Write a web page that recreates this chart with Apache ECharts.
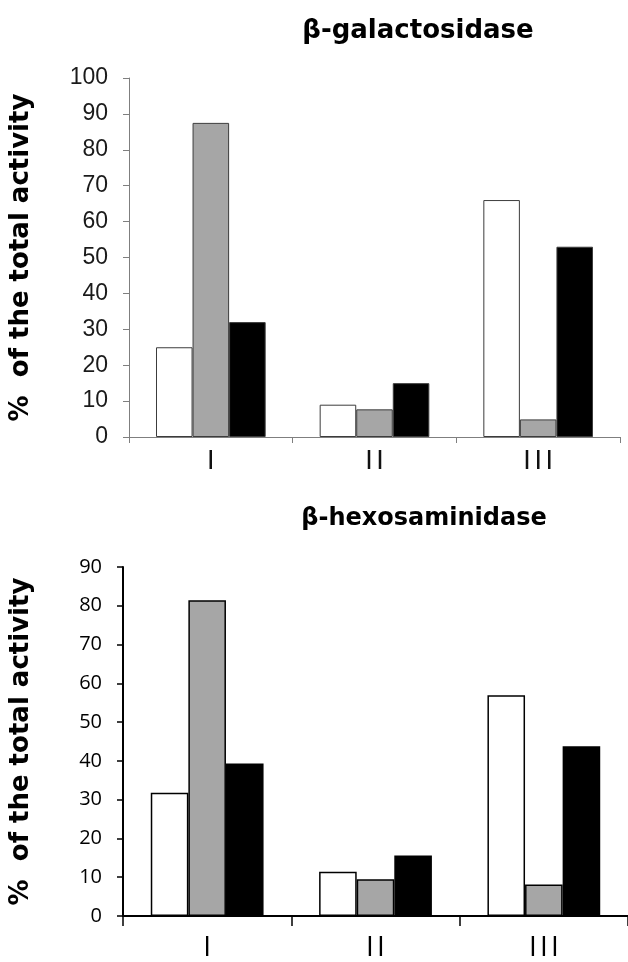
<!DOCTYPE html>
<html>
<head>
<meta charset="utf-8">
<script src="https://cdn.jsdelivr.net/npm/echarts@6/dist/echarts.min.js"></script>
<style>
html,body{margin:0;padding:0;background:#fff;}
#c{width:628px;height:962px;}
</style>
</head>
<body>
<div id="c"></div>
<script>
const categories = ['I', 'II', 'III'];
const galTitle = 'β-galactosidase';
const hexTitle = 'β-hexosaminidase';
const yName = '%  of the total activity';
// β-galactosidase (top)
const galWhite = [25, 9, 66];
const galGray = [87.5, 7.7, 4.9];
const galBlack = [32, 15, 53];
// β-hexosaminidase (bottom)
const hexWhite = [31.8, 11.4, 56.9];
const hexGray = [81.4, 9.5, 8.1];
const hexBlack = [39.3, 15.6, 43.8];
const galTicks = {min: 0, max: 100, interval: 10};
const hexTicks = {min: 0, max: 90, interval: 10};

// roman numerals are drawn with a small gap between strokes
const spaced = v => v.split('').join('{g|\u200B}');

const chart = echarts.init(document.getElementById('c'), null, {renderer: 'canvas'});

function bar(name, data, xi, color, border, bw) {
  return {
    name: name, type: 'bar', xAxisIndex: xi, yAxisIndex: xi, data: data,
    barGap: '0%', barCategoryGap: '33%',
    itemStyle: {color: color, borderColor: border, borderWidth: bw},
    animation: false
  };
}

chart.setOption({
  animation: false,
  backgroundColor: '#fff',
  title: [
    {text: galTitle, left: 413, top: 13, textAlign: 'center',
     textStyle: {fontFamily: 'DejaVu Sans', fontWeight: 'bold', fontSize: 26, color: '#000'}},
    {text: hexTitle, left: 419, top: 502, textAlign: 'center',
     textStyle: {fontFamily: 'DejaVu Sans', fontWeight: 'bold', fontSize: 24, color: '#000'}}
  ],
  grid: [
    {left: 127, right: 8, top: 78, height: 359, containLabel: false},
    {left: 121, right: 0, top: 567, height: 356, containLabel: false}
  ],
  xAxis: [
    {type: 'category', gridIndex: 0, data: categories,
     axisLine: {lineStyle: {color: '#7f7f7f', width: 1}},
     axisTick: {show: true, length: 6, lineStyle: {color: '#7f7f7f'}},
     axisLabel: {formatter: spaced, fontFamily: 'Liberation Sans', fontSize: 27, color: '#111', margin: 11,
                 rich: {g: {width: 3.6, fontSize: 27}}}},
    {type: 'category', gridIndex: 1, data: categories,
     axisLine: {lineStyle: {color: '#000', width: 2}},
     axisTick: {show: true, length: 10, lineStyle: {color: '#000', width: 1.5}},
     axisLabel: {formatter: spaced, fontFamily: 'Open Sans', fontSize: 28, color: '#000', margin: 18,
                 rich: {g: {width: 3.2, fontSize: 28}}}}
  ],
  yAxis: [
    {type: 'value', gridIndex: 0, min: galTicks.min, max: galTicks.max, interval: galTicks.interval,
     name: yName, nameLocation: 'middle', nameGap: 95, nameRotate: 90,
     nameTextStyle: {fontFamily: 'DejaVu Sans', fontWeight: 'bold', fontSize: 26, color: '#000'},
     axisLine: {show: true, lineStyle: {color: '#7f7f7f', width: 1}},
     axisTick: {show: true, length: 6, lineStyle: {color: '#7f7f7f'}},
     splitLine: {show: false},
     axisLabel: {fontFamily: 'Liberation Sans', fontSize: 23, color: '#1a1a1a', margin: 21}},
    {type: 'value', gridIndex: 1, min: hexTicks.min, max: hexTicks.max, interval: hexTicks.interval,
     name: yName, nameLocation: 'middle', nameGap: 89, nameRotate: 90,
     nameTextStyle: {fontFamily: 'DejaVu Sans', fontWeight: 'bold', fontSize: 26, color: '#000'},
     axisLine: {show: true, lineStyle: {color: '#000', width: 2}},
     axisTick: {show: true, length: 6, lineStyle: {color: '#000', width: 1.5}},
     splitLine: {show: false},
     axisLabel: {fontFamily: 'Open Sans', fontSize: 20, color: '#000', margin: 21}}
  ],
  series: [
    bar('white', galWhite, 0, '#ffffff', '#3c3c3c', 1),
    bar('gray', galGray, 0, '#a6a6a6', '#3c3c3c', 1),
    bar('black', galBlack, 0, '#000000', '#3c3c3c', 1),
    bar('white', hexWhite, 1, '#ffffff', '#000', 1.5),
    bar('gray', hexGray, 1, '#a6a6a6', '#000', 1.5),
    bar('black', hexBlack, 1, '#000000', '#000', 1.5)
  ]
});
</script>
</body>
</html>
